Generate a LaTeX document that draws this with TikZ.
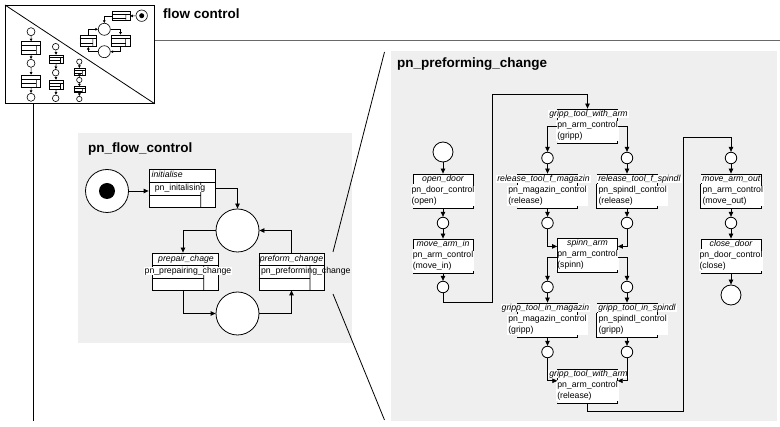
\documentclass[tikz,border=0pt]{standalone}
\usepackage{fontspec}
\setmainfont{Liberation Sans}
\usetikzlibrary{arrows.meta,calc}
\definecolor{panel}{RGB}{239,239,239}
\definecolor{rulec}{RGB}{105,105,105}
\tikzset{
  every node/.style={font=\fontsize{8.7}{10.5}\selectfont},
  ln/.style={line width=0.8pt},
  thinln/.style={line width=0.6pt},
  arr/.style={ln,-{Triangle[length=5pt,width=4.5pt]}},
  sarr/.style={line width=0.6pt,-{Triangle[length=2.6pt,width=2.6pt]}},
  bigpl/.style={circle,draw,ln,fill=white,minimum size=43pt,inner sep=0pt},
  mpl/.style={circle,draw,ln,fill=white,minimum size=20pt,inner sep=0pt},
  pl/.style={circle,draw,ln,fill=white,minimum size=11.5pt,inner sep=0pt},
  hdr/.style={draw,ln,fill=white,minimum width=60pt,minimum height=10pt,inner sep=0pt},
  lbl/.style={fill=white,inner xsep=1pt,inner ysep=0pt,text height=6pt,text depth=1.6pt,font=\fontsize{8.7}{10.5}\selectfont\itshape},
  ilbl/.style={inner sep=0pt,text height=6pt,text depth=1.6pt,font=\fontsize{8.7}{10.5}\selectfont\itshape},
  bdy/.style={fill=white,minimum width=60pt,minimum height=24pt,inner sep=0pt},
  btxt/.style={fill=white,align=left,inner xsep=1pt,inner ysep=0.5pt},
  ltxt/.style={inner xsep=1pt,inner ysep=0pt,text height=6pt,text depth=1.6pt},
  title/.style={font=\fontsize{13.5}{16}\selectfont\bfseries,inner sep=0pt},
}
% right-panel transition: name, x, top y, label, body, label x-offset
\newcommand\rtr[6]{%
  \node[hdr] (#1h) at (#2,#3+5) {};
  \node[bdy] (#1b) at (#2,#3+22) {};
  \draw[ln] (#1b.north east) -- (#1b.south east) -- (#1b.south west);
  \node[lbl] (#1l) at ([xshift=#6pt]#1h.center) {#4};
  \node[btxt] (#1t) at (#1b.center) {#5};
}
% left-aligned variant with a left border on the body
\newcommand\rtrl[5]{%
  \node[hdr] (#1h) at (#2,#3+5) {};
  \node[bdy] (#1b) at (#2,#3+22) {};
  \draw[ln] (#1b.north west) -- (#1b.south west) -- (#1b.south east) -- (#1b.north east);
  \node[lbl,anchor=west] (#1l) at ([xshift=0.5pt]#1h.west) {#4};
  \node[btxt,anchor=west] (#1t) at ([xshift=0.5pt]#1b.west) {#5};
}
% box with sub-net marks: name, cx, cy, w, h, line style
\newcommand\subbox[6]{%
  \node[draw,#6,fill=white,minimum width=#4pt,minimum height=#5pt,inner sep=0pt] (#1) at (#2,#3) {};
  \draw[#6] ($(#1.north west)!0.33!(#1.south west)$) -- ($(#1.north east)!0.33!(#1.south east)$);
  \draw[#6] ($(#1.north west)!0.68!(#1.south west)$) -- ($(#1.north west)!0.68!(#1.south west)+(0.79*#4,0)$);
  \draw[#6] ($(#1.north west)!0.33!(#1.south west)+(0.79*#4,0)$) -- ($(#1.south west)+(0.79*#4,0)$);
}
\begin{document}
\begin{tikzpicture}[x=1pt,y=-1pt]
\useasboundingbox (0,0) rectangle (780,427);
\fill[white] (0,0) rectangle (780,427);

% ---------- header: icon, title, rule ----------
\node[draw,ln,minimum width=149pt,minimum height=98pt,inner sep=0pt,anchor=north west] (icon) at (5,5) {};
\draw[ln] (icon.north west) -- (icon.south east);
\node[title,anchor=base west] (ttl) at (163,19) {flow control};
\coordinate (rl) at (780,40.5);
\draw[rulec,line width=1.8pt] (rl -| icon.east) -- (rl);
\coordinate (vl) at (33.3,421);
\draw[ln] (icon.south -| vl) -- (vl);

% icon: upper-right net
\node[circle,draw,thinln,fill=white,minimum size=11.4pt,inner sep=0pt] (ik) at (141.7,15.7) {};
\node[circle,fill=black,minimum size=5pt,inner sep=0pt] (ikd) at (ik) {};
\subbox{itb}{121}{16.2}{18}{9}{thinln}
\node[circle,draw,thinln,fill=white,minimum size=12pt,inner sep=0pt] (ic1) at (104.3,29.3) {};
\subbox{ilb}{88.3}{40.8}{16.7}{11.7}{thinln}
\subbox{irb}{120.5}{40.8}{18.7}{11.7}{thinln}
\node[circle,draw,thinln,fill=white,minimum size=12pt,inner sep=0pt] (ic2) at (104.3,51.7) {};
\draw[sarr] (ik) -- (itb);
\draw[sarr] (itb.west) -| (ic1);
\draw[sarr] (ic1) -| (irb.north);
\draw[sarr] (irb.south) |- (ic2);
\draw[sarr] (ic2) -| (ilb.south);
\draw[sarr] (ilb.north) |- (ic1);

% icon: lower-left columns
\node[circle,draw,thinln,fill=white,minimum size=8pt,inner sep=0pt] (a1) at (31,31.7) {};
\subbox{a2}{31.2}{47.8}{19}{12.3}{thinln}
\node[circle,draw,thinln,fill=white,minimum size=8pt,inner sep=0pt] (a3) at (31,63.3) {};
\subbox{a4}{31.2}{81.2}{19}{12.3}{thinln}
\node[circle,draw,thinln,fill=white,minimum size=8pt,inner sep=0pt] (a5) at (31,97.3) {};
\draw[sarr] (a1) -- (a2); \draw[sarr] (a2) -- (a3); \draw[sarr] (a3) -- (a4); \draw[sarr] (a4) -- (a5);
\node[circle,draw,thinln,fill=white,minimum size=6.6pt,inner sep=0pt] (b1) at (55.7,46.7) {};
\subbox{b2}{56.3}{59.2}{14}{8.3}{thinln}
\node[circle,draw,thinln,fill=white,minimum size=6.6pt,inner sep=0pt] (b3) at (55.7,72.7) {};
\subbox{b4}{56.3}{84.7}{14}{9.3}{thinln}
\node[circle,draw,thinln,fill=white,minimum size=6.6pt,inner sep=0pt] (b5) at (55.7,98.3) {};
\draw[sarr] (b1) -- (b2); \draw[sarr] (b2) -- (b3); \draw[sarr] (b3) -- (b4); \draw[sarr] (b4) -- (b5);
\node[circle,draw,thinln,fill=white,minimum size=5.4pt,inner sep=0pt] (e1) at (79.3,61.7) {};
\subbox{e2}{79.5}{71.7}{11}{6.7}{thinln}
\node[circle,draw,thinln,fill=white,minimum size=5.4pt,inner sep=0pt] (e3) at (79.3,80) {};
\subbox{e4}{79.5}{89.7}{11}{6}{thinln}
\node[circle,draw,thinln,fill=white,minimum size=5.4pt,inner sep=0pt] (e5) at (79.3,99) {};
\draw[sarr] (e1) -- (e2); \draw[sarr] (e2) -- (e3); \draw[sarr] (e3) -- (e4); \draw[sarr] (e4) -- (e5);

% ---------- left panel: pn_flow_control ----------
\fill[panel] (78,133) rectangle (352,343);
\node[title,anchor=base west] (lt) at (88,153) {pn\_flow\_control};
\node[bigpl] (S) at (107,191) {};
\node[circle,fill=black,minimum size=16pt,inner sep=0pt] (Sd) at (S) {};
\subbox{ti}{182}{188.5}{66}{38}{ln}
\node[ilbl,anchor=west] (til) at (151.5,175.8) {initialise};
\node[ltxt,fill=white] (tit) at (180,188.7) {pn\_initalising};
\node[bigpl] (P1) at (237.5,230.5) {};
\node[bigpl] (P2) at (237.5,313.5) {};
\subbox{tpre}{185}{271.5}{66}{37}{ln}
\node[ilbl] (tprel) at (186,259.2) {prepair\_chage};
\node[ltxt,fill=white] (tpret) at (188,271.2) {pn\_prepairing\_change};
\subbox{tpf}{291.5}{271.5}{65}{37}{ln}
\node[ilbl] (tpfl) at (291.5,259.2) {preform\_change};
\node[ltxt,anchor=west] (tpft) at (259.8,271.2) {pn\_preforming\_change};
\draw[arr] (S.east) -- (S.east -| ti.west);
\draw[arr] (ti.east) -| (P1);
\draw[arr] (P1) -| ([xshift=-2pt]tpre.north);
\draw[arr] ([xshift=-2pt]tpre.south) |- (P2);
\draw[arr] (P2) -| (tpf.south);
\draw[arr] (tpf.north) |- (P1);

% connecting lines
\coordinate (ld1) at (333,252); \coordinate (ld2) at (384.5,52);
\coordinate (ld3) at (333,294); \coordinate (ld4) at (384.5,420);
\draw[ln] (ld1) -- (ld2);
\draw[ln] (ld3) -- (ld4);

% ---------- right panel: pn_preforming_change ----------
\fill[panel] (391,51) rectangle (777,421);
\node[title,anchor=base west] (rt) at (397,67.5) {pn\_preforming\_change};

\node[mpl] (PA0) at (443,152) {};
\rtr{A}{443}{174}{open\_door}{pn\_door\_control\\(open)}{0}
\node[pl] (PA1) at (443,223) {};
\rtr{M}{443}{239}{move\_arm\_in}{pn\_arm\_control\\(move\_in)}{0}
\node[pl] (PA2) at (443,287) {};

\rtr{T1}{587.5}{109}{gripp\_tool\_with\_arm}{pn\_arm\_control\\(gripp)}{1}
\node[pl] (PB1) at (547.5,158) {};
\node[pl] (PC1) at (627,158) {};
\rtr{RM}{547.5}{174}{release\_tool\_f\_magazin}{pn\_magazin\_control\\(release)}{-4}
\rtrl{RS}{627}{174}{release\_tool\_f\_spindl}{pn\_spindl\_control\\(release)}
\node[pl] (PB2) at (547.5,223) {};
\node[pl] (PC2) at (627,223) {};
\rtr{T4}{587.5}{238}{spinn\_arm}{pn\_arm\_control\\(spinn)}{0}
\draw[ln] (T4b.north west) -- (T4b.south west);
\node[pl] (PB3) at (547.5,287) {};
\node[pl] (PC3) at (627,287) {};
\rtr{GM}{547.5}{303}{gripp\_tool\_in\_magazin}{pn\_magazin\_control\\(gripp)}{-2}
\rtrl{GS}{627}{303}{gripp\_tool\_in\_spindl}{pn\_spindl\_control\\(gripp)}
\node[pl] (PB4) at (547.5,352) {};
\node[pl] (PC4) at (627,352) {};
\rtr{T7}{587.5}{369}{gripp\_tool\_with\_arm}{pn\_arm\_control\\(release)}{1}

\node[pl] (PD0) at (731,158) {};
\rtrl{MO}{731}{174}{move\_arm\_out}{pn\_arm\_control\\(move\_out)}
\node[pl] (PD1) at (731,223) {};
\rtr{CD}{731}{239}{close\_door}{pn\_door\_control\\(close)}{0}
\node[mpl] (PD2) at (731,295) {};

\coordinate (d1) at (492,302); \coordinate (d2) at (492,94);
\coordinate (c1) at (683,411.7); \coordinate (c2) at (683,137.7);

\draw[arr] (PA0) -- (Ah.north);
\draw[arr] (Ab.south) -- (PA1);
\draw[arr] (PA1) -- (Mh.north);
\draw[arr] (Mb.south) -- (PA2);
\draw[arr] (PA2) |- (d1) -- (d2) -| (T1h.north);
\draw[arr] ([yshift=4.5pt]T1b.west) -| (PB1);
\draw[arr] ([yshift=4.5pt]T1b.east) -| (PC1);
\draw[arr] (PB1) -- (RMh.north);
\draw[arr] (PC1) -- (RSh.north);
\draw[arr] (RMb.south) -- (PB2);
\draw[arr] (RSb.south) -- (PC2);
\draw[arr] (PB2) |- ([yshift=2pt]T4h.south west);
\draw[arr] (PC2) |- ([yshift=2pt]T4h.south east);
\draw[arr] ([yshift=3pt]T4b.west) -| (PB3);
\draw[arr] ([yshift=3pt]T4b.east) -| (PC3);
\draw[arr] (PB3) -- (GMh.north);
\draw[arr] (PC3) -- (GSh.north);
\draw[arr] (GMb.south) -- (PB4);
\draw[arr] (GSb.south) -- (PC4);
\draw[arr] (PB4) |- ([yshift=-2pt]T7b.north west);
\draw[arr] (PC4) |- ([yshift=-2pt]T7b.north east);
\draw[arr] (T7b.south) |- (c1) -- (c2) -| (PD0);
\draw[arr] (PD0) -- (MOh.north);
\draw[arr] (MOb.south) -- (PD1);
\draw[arr] (PD1) -- (CDh.north);
\draw[arr] (CDb.south) -- (PD2);
\end{tikzpicture}
\end{document}
